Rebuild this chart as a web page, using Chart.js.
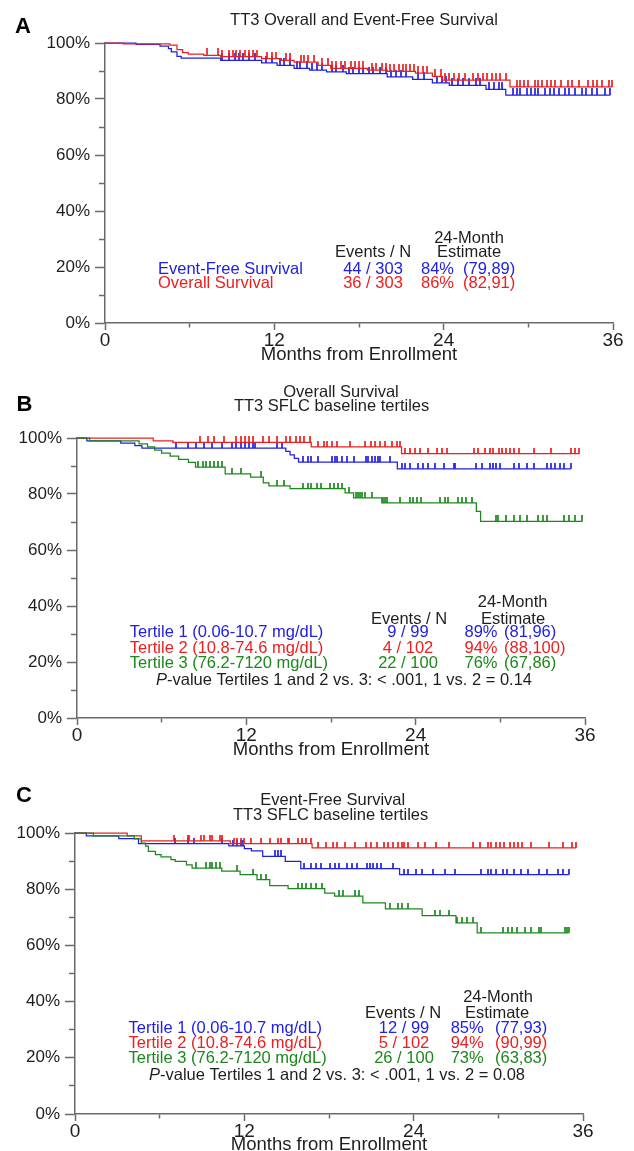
<!DOCTYPE html>
<html>
<head>
<meta charset="utf-8">
<script src="https://cdn.jsdelivr.net/npm/chart.js@4.4.1/dist/chart.umd.min.js"></script>
<style>
  html, body { margin: 0; padding: 0; background: #fff; overflow: hidden; }
  body { width: 634px; height: 1151px; position: relative; }
  canvas { position: absolute; left: 0; }
</style>
</head>
<body>
<canvas id="panelA" width="634" height="378" style="top:0px"></canvas>
<canvas id="panelB" width="634" height="392" style="top:378px"></canvas>
<canvas id="panelC" width="634" height="390" style="top:770px"></canvas>
<script>
// ---- axis ticks ----
const monthTicks = [0, 6, 12, 18, 24, 30, 36];
const monthLabels = ['0', '', '12', '', '24', '', '36'];
const pctTicks = [0, 10, 20, 30, 40, 50, 60, 70, 80, 90, 100];
const pctLabels = ['0%', '', '20%', '', '40%', '', '60%', '', '80%', '', '100%'];

// ---- panel A: TT3 overall (OS) and event-free (EFS) survival, % by month ----
const aOsTimes = [1.3, 4.6, 5.1, 5.5, 5.9, 7.0, 8.2, 11.1, 12.5, 13.4, 15.1, 16.0, 18.6, 20.0, 22.0, 23.2, 23.9, 28.7];
const aOsSurv = [99.7, 99.2, 97.6, 96.6, 96.0, 95.6, 95.1, 94.4, 93.8, 93.2, 92.0, 90.9, 90.3, 89.9, 89.2, 88.1, 86.7, 84.3];
const aOsCensor = [7.2, 8.0, 8.3, 8.8, 9.1, 9.3, 9.6, 9.9, 10.2, 10.5, 10.8, 11.5, 11.8, 12.1, 12.8, 13.1, 13.9, 14.1, 14.4, 14.8, 15.4, 15.8, 16.1, 16.4, 16.7, 17.0, 17.4, 17.7, 18.0, 18.3, 18.9, 19.2, 19.6, 19.9, 20.2, 20.5, 20.8, 21.1, 21.3, 21.6, 21.9, 22.2, 22.5, 22.8, 23.4, 23.8, 24.1, 24.4, 24.7, 25.1, 25.5, 26.1, 26.4, 26.8, 27.1, 27.4, 27.7, 28.0, 28.4, 29.2, 29.4, 29.7, 30.0, 30.5, 30.7, 31.0, 31.3, 31.6, 31.9, 32.3, 32.8, 33.1, 33.6, 34.2, 34.6, 34.9, 35.2, 35.7, 35.95];
const aEfsTimes = [2.2, 3.9, 4.5, 4.7, 5.1, 5.4, 8.2, 11.1, 12.2, 13.4, 14.5, 15.7, 17.1, 20.0, 21.8, 23.2, 24.4, 27.0, 28.4];
const aEfsSurv = [99.5, 98.9, 98.0, 96.8, 95.2, 94.6, 93.8, 92.9, 92.0, 90.9, 90.3, 89.7, 89.1, 87.9, 87.0, 85.8, 84.9, 83.4, 81.4];
const aEfsCensor = [8.3, 8.8, 9.2, 9.5, 9.8, 10.2, 10.6, 11.4, 11.8, 12.4, 12.7, 13.1, 13.6, 13.8, 14.3, 14.7, 15.0, 15.4, 16.1, 16.4, 16.9, 17.3, 17.6, 18.0, 18.3, 18.7, 19.0, 19.5, 19.9, 20.3, 20.6, 21.0, 21.3, 22.2, 22.6, 23.5, 23.9, 24.2, 24.6, 25.0, 25.4, 25.8, 26.3, 26.6, 27.2, 27.6, 27.9, 28.1, 28.9, 29.2, 29.4, 29.9, 30.2, 30.5, 30.7, 31.2, 31.5, 31.8, 32.2, 32.6, 32.9, 33.3, 33.8, 34.1, 34.5, 34.9, 35.4, 35.8];
const aRowNames = ['Event-Free Survival', 'Overall Survival'];
const aEventsN = ['44 / 303', '36 / 303'];
const aEst24 = ['84%', '86%'];
const aCI24 = ['(79,89)', '(82,91)'];

// ---- panel B: overall survival by SFLC tertile ----
const bT1Times = [0.7, 3.1, 4.1, 4.6, 14.8, 15.1, 15.4, 15.7, 22.7];
const bT1Surv = [99.0, 98.2, 97.3, 96.4, 95.2, 94.0, 92.7, 91.4, 89.0];
const bT1Censor = [7.0, 7.9, 8.4, 9.0, 9.6, 10.3, 11.0, 11.3, 11.6, 11.9, 12.2, 12.5, 12.6, 14.2, 14.5, 16.0, 16.4, 16.6, 17.1, 18.05, 18.3, 18.4, 18.75, 19.1, 19.6, 20.5, 20.65, 20.9, 21.1, 21.35, 21.5, 22.2, 23.0, 23.25, 23.6, 24.2, 24.5, 24.9, 25.4, 26.0, 26.7, 26.8, 28.3, 28.7, 29.3, 29.5, 29.7, 30.0, 31.0, 31.3, 31.9, 32.4, 33.3, 33.6, 33.9, 34.2, 34.5, 35.0];
const bT2Times = [5.4, 6.8, 16.6, 23.0];
const bT2Surv = [99.0, 98.4, 96.8, 94.4];
const bT2Censor = [8.7, 9.3, 9.7, 10.4, 11.3, 11.6, 11.9, 12.2, 12.5, 13.2, 13.6, 14.2, 14.8, 15.1, 15.5, 15.8, 16.1, 16.5, 17.1, 17.5, 17.7, 18.05, 18.4, 19.35, 20.4, 20.8, 21.1, 21.5, 21.8, 22.3, 22.7, 22.9, 23.25, 23.6, 23.95, 24.3, 24.9, 25.5, 25.85, 26.2, 28.1, 28.45, 28.9, 29.3, 29.5, 29.9, 30.1, 30.4, 30.7, 31.0, 31.3, 32.4, 33.6, 35.0, 35.3, 35.6];
const bT3Times = [0.9, 4.4, 5.0, 5.5, 6.0, 6.6, 7.2, 7.9, 8.4, 10.5, 12.3, 13.2, 13.6, 15.1, 19.0, 19.6, 21.6, 28.3, 28.6];
const bT3Surv = [99.0, 97.9, 96.8, 95.7, 94.6, 93.5, 92.4, 91.3, 89.6, 87.2, 86.0, 84.0, 82.9, 81.9, 80.4, 78.6, 76.8, 73.8, 70.2];
const bT3Censor = [8.6, 8.9, 9.15, 9.4, 9.7, 10.0, 10.3, 11.0, 11.6, 13.05, 14.2, 14.65, 16.0, 16.4, 16.6, 17.0, 17.3, 17.9, 18.2, 18.5, 18.75, 19.3, 19.8, 19.9, 20.05, 20.2, 20.4, 20.9, 21.7, 21.8, 21.95, 22.9, 23.6, 23.8, 24.1, 24.4, 25.7, 26.1, 26.3, 27.0, 27.3, 27.6, 28.0, 29.7, 29.8, 30.4, 31.0, 31.4, 31.9, 32.7, 33.0, 33.3, 34.5, 34.9, 35.3, 35.8];
const bEventsN = ['9 / 99', '4 / 102', '22 / 100'];
const bEst24 = ['89%', '94%', '76%'];
const bCI24 = ['(81,96)', '(88,100)', '(67,86)'];

// ---- panel C: event-free survival by SFLC tertile ----
const cT1Times = [0.8, 3.1, 4.5, 10.9, 12.0, 12.5, 13.3, 14.9, 16.0, 23.0];
const cT1Surv = [99.0, 98.0, 96.2, 95.4, 94.4, 93.6, 91.7, 89.9, 87.3, 85.2];
const cT1Censor = [7.1, 8.0, 8.4, 10.45, 11.2, 11.5, 11.75, 11.9, 14.2, 14.4, 14.6, 16.2, 16.7, 17.1, 17.4, 18.1, 18.4, 18.7, 19.3, 19.6, 20.0, 20.7, 20.9, 21.15, 21.4, 21.7, 22.5, 23.3, 23.6, 24.2, 24.6, 25.35, 26.2, 26.9, 28.8, 29.25, 29.5, 29.8, 30.3, 30.6, 31.1, 31.6, 32.1, 32.9, 33.45, 34.2, 34.6, 35.0];
const cT2Times = [3.7, 4.7, 11.0, 16.8];
const cT2Surv = [99.0, 97.2, 96.2, 94.7];
const cT2Censor = [7.0, 8.0, 8.1, 8.9, 9.15, 9.6, 9.7, 10.3, 10.45, 11.3, 11.5, 11.75, 12.0, 12.5, 13.2, 13.8, 14.4, 14.6, 15.1, 15.2, 15.8, 16.1, 16.4, 16.7, 17.25, 17.8, 18.3, 18.55, 19.1, 19.85, 20.6, 21.0, 21.4, 21.9, 22.2, 22.5, 22.9, 23.2, 23.3, 23.6, 24.3, 24.8, 25.6, 26.5, 28.2, 28.7, 29.25, 29.5, 29.8, 30.1, 30.4, 30.8, 31.1, 31.4, 31.7, 32.3, 33.6, 34.6, 35.2, 35.5];
const cT3Times = [1.3, 4.2, 4.7, 5.0, 5.2, 5.7, 6.1, 6.8, 7.1, 7.9, 8.3, 10.4, 11.7, 12.9, 13.8, 15.1, 17.7, 18.4, 20.4, 22.0, 24.6, 27.0, 28.5];
const cT3Surv = [99.0, 97.9, 96.4, 95.3, 93.5, 92.3, 91.5, 90.5, 89.9, 88.7, 87.5, 86.4, 85.2, 83.4, 81.3, 80.2, 78.6, 77.5, 75.1, 73.0, 70.6, 68.0, 64.5];
const cT3Censor = [8.6, 9.3, 9.6, 9.7, 10.0, 10.3, 11.5, 12.6, 13.2, 13.5, 15.8, 16.1, 16.4, 16.7, 17.1, 17.5, 18.7, 19.0, 19.85, 20.1, 22.3, 22.9, 23.2, 23.6, 25.5, 25.9, 26.5, 27.1, 27.4, 27.8, 28.2, 28.8, 30.3, 30.7, 31.0, 31.3, 31.9, 32.3, 32.9, 33.0, 34.75, 34.9, 35.0];
const cEventsN = ['12 / 99', '5 / 102', '26 / 100'];
const cEst24 = ['85%', '94%', '73%'];
const cCI24 = ['(77,93)', '(90,99)', '(63,83)'];

const tertileNames = ['Tertile 1 (0.06-10.7 mg/dL)', 'Tertile 2 (10.8-74.6 mg/dL)', 'Tertile 3 (76.2-7120 mg/dL)'];
const headerLabels = ['24-Month', 'Events / N', 'Estimate'];

const FONT = "'Liberation Sans', Arial, Helvetica, sans-serif";
const BLUE = 'rgb(32, 32, 226)';
const RED = 'rgb(234, 32, 32)';
const GREEN = 'rgb(28, 136, 28)';
const INK = '#1e1e1e';
const AXIS = '#6a6a6a';

// value of the step function at time t
function survAt(times, surv, t) {
    let s = 100;
    for (let i = 0; i < times.length; i++) {
        if (times[i] <= t) s = surv[i];
    }
    return s;
}

// small upward censor tick used as a point style
function tickMark(color, h) {
    const c = document.createElement('canvas');
    c.width = 2;
    c.height = h * 2;
    const g = c.getContext('2d');
    g.globalAlpha = 0.85;
    g.fillStyle = color;
    g.fillRect(0, 0, 2, h);
    return c;
}

function curveSets(color, times, surv, censor, tickH) {
    const end = Math.max(...censor);
    const steps = [{ x: 0, y: 100 }].concat(times.map((t, i) => ({ x: t, y: surv[i] })));
    steps.push({ x: end, y: surv[surv.length - 1] });
    return [
        {
            data: steps,
            borderColor: color,
            borderWidth: 1.25,
            stepped: 'before',
            pointRadius: 0,
            fill: false,
            clip: false
        },
        {
            data: censor.map(t => ({ x: t, y: survAt(times, surv, t) })),
            showLine: false,
            pointStyle: tickMark(color, tickH),
            pointRadius: 3,
            clip: false
        }
    ];
}

function textPlugin(t) {
    return {
        id: 'panelText',
        afterDraw(chart) {
            const ctx = chart.ctx;
            ctx.save();
            ctx.fillStyle = '#000';
            ctx.textAlign = 'left';
            ctx.textBaseline = 'alphabetic';
            ctx.font = `bold 22px ${FONT}`;
            ctx.fillText(t.letter, t.letterPos[0], t.letterPos[1]);

            ctx.textBaseline = 'middle';
            ctx.font = `16.5px ${FONT}`;
            ctx.fillStyle = INK;
            ctx.textAlign = 'center';
            t.titles.forEach(([s, x, y]) => ctx.fillText(s, x, y));
            headerLabels.forEach((s, i) => ctx.fillText(s, t.headers[i][0], t.headers[i][1]));

            t.rowY.forEach((y, i) => {
                ctx.fillStyle = t.colors[i];
                ctx.textAlign = 'left';
                ctx.fillText(t.names[i], t.cols.name, y);
                ctx.textAlign = 'center';
                ctx.fillText(t.events[i], t.cols.events, y);
                ctx.textAlign = 'right';
                ctx.fillText(t.est[i], t.cols.est, y);
                ctx.textAlign = 'left';
                ctx.fillText(t.ci[i], t.cols.ci, y);
            });

            if (t.pValue) {
                const [txt, cx, cy] = t.pValue;
                ctx.fillStyle = INK;
                ctx.textAlign = 'left';
                ctx.font = `italic 16.5px ${FONT}`;
                const wP = ctx.measureText('P').width;
                ctx.font = `16.5px ${FONT}`;
                const wRest = ctx.measureText(txt).width;
                const x0 = cx - (wP + wRest) / 2;
                ctx.font = `italic 16.5px ${FONT}`;
                ctx.fillText('P', x0, cy);
                ctx.font = `16.5px ${FONT}`;
                ctx.fillText(txt, x0 + wP, cy);
            }
            ctx.restore();
        }
    };
}

function makePanel(id, geo, datasets, text) {
    return new Chart(document.getElementById(id), {
        type: 'line',
        data: { datasets: datasets },
        options: {
            responsive: false,
            animation: false,
            events: [],
            devicePixelRatio: 1,
            layout: { autoPadding: false, padding: geo.pad },
            plugins: { legend: { display: false }, tooltip: { enabled: false } },
            scales: {
                x: {
                    type: 'linear',
                    min: 0,
                    max: 36,
                    afterBuildTicks: s => { s.ticks = monthTicks.map(v => ({ value: v })); },
                    afterFit: s => { s.height = geo.xh; },
                    border: { display: true, color: AXIS, width: 1.5 },
                    grid: {
                        drawOnChartArea: false,
                        drawTicks: true,
                        tickLength: 7,
                        tickColor: AXIS,
                        tickWidth: 1.5,
                        tickBorderDash: c => (monthLabels[c.index] ? [] : [4, 20]),
                        tickBorderDashOffset: 0
                    },
                    ticks: {
                        autoSkip: false,
                        maxRotation: 0,
                        minRotation: 0,
                        padding: 1,
                        color: INK,
                        font: { family: FONT, size: 19, lineHeight: 1 },
                        callback: (v, i) => monthLabels[i]
                    },
                    title: {
                        display: true,
                        text: 'Months from Enrollment',
                        color: INK,
                        font: { family: FONT, size: 18.5, lineHeight: 1 },
                        padding: { top: 0, bottom: geo.titlePad }
                    }
                },
                y: {
                    type: 'linear',
                    min: 0,
                    max: 100,
                    afterBuildTicks: s => { s.ticks = pctTicks.map(v => ({ value: v })); },
                    afterFit: s => { s.width = geo.yw; },
                    border: { display: true, color: AXIS, width: 1.5 },
                    grid: {
                        drawOnChartArea: false,
                        drawTicks: true,
                        tickLength: 10,
                        tickColor: AXIS,
                        tickWidth: 1.5,
                        tickBorderDash: c => (pctLabels[c.index] ? [] : [6, 4]),
                        tickBorderDashOffset: c => (pctLabels[c.index] ? 0 : 6)
                    },
                    ticks: {
                        autoSkip: false,
                        padding: 5,
                        color: INK,
                        font: { family: FONT, size: 17, lineHeight: 1 },
                        callback: (v, i) => pctLabels[i]
                    }
                }
            }
        },
        plugins: [textPlugin(text)]
    });
}

// Panel A
makePanel('panelA',
    { pad: { left: 0, right: 21, top: 43, bottom: 0 }, yw: 105, xh: 55, titlePad: 14 },
    [].concat(
        curveSets(RED, aOsTimes, aOsSurv, aOsCensor, 7),
        curveSets(BLUE, aEfsTimes, aEfsSurv, aEfsCensor, 7)
    ),
    {
        letter: 'A', letterPos: [15, 33],
        titles: [['TT3 Overall and Event-Free Survival', 364, 20.5]],
        headers: [[469, 238], [373, 252.7], [469, 252.7]],
        rowY: [269, 283.3],
        colors: [BLUE, RED],
        names: aRowNames, events: aEventsN, est: aEst24, ci: aCI24,
        cols: { name: 158, events: 373, est: 454, ci: 463 }
    });

// Panel B
makePanel('panelB',
    { pad: { left: 0, right: 49, top: 60, bottom: 0 }, yw: 77, xh: 52, titlePad: 11 },
    [].concat(
        curveSets(GREEN, bT3Times, bT3Surv, bT3Censor, 6),
        curveSets(RED, bT2Times, bT2Surv, bT2Censor, 6),
        curveSets(BLUE, bT1Times, bT1Surv, bT1Censor, 6)
    ),
    {
        letter: 'B', letterPos: [16.5, 32.7],
        titles: [['Overall Survival', 341, 14.8], ['TT3 SFLC baseline tertiles', 331.6, 28.2]],
        headers: [[512.6, 224.7], [409, 241], [513, 241]],
        rowY: [254.3, 270.3, 285.3],
        colors: [BLUE, RED, GREEN],
        names: tertileNames, events: bEventsN, est: bEst24, ci: bCI24,
        cols: { name: 129.8, events: 408, est: 497.5, ci: 504 },
        pValue: ['-value Tertiles 1 and 2 vs. 3: < .001, 1 vs. 2 = 0.14', 344, 302]
    });

// Panel C
makePanel('panelC',
    { pad: { left: 0, right: 51, top: 63, bottom: 0 }, yw: 75, xh: 46, titlePad: 6 },
    [].concat(
        curveSets(GREEN, cT3Times, cT3Surv, cT3Censor, 6),
        curveSets(RED, cT2Times, cT2Surv, cT2Censor, 6),
        curveSets(BLUE, cT1Times, cT1Surv, cT1Censor, 6)
    ),
    {
        letter: 'C', letterPos: [16, 31.5],
        titles: [['Event-Free Survival', 332.7, 30], ['TT3 SFLC baseline tertiles', 330.6, 45]],
        headers: [[498, 227.3], [403, 243.3], [497, 243.3]],
        rowY: [258.3, 273.3, 288.3],
        colors: [BLUE, RED, GREEN],
        names: tertileNames, events: cEventsN, est: cEst24, ci: cCI24,
        cols: { name: 128.6, events: 404, est: 483.7, ci: 495 },
        pValue: ['-value Tertiles 1 and 2 vs. 3: < .001, 1 vs. 2 = 0.08', 337, 305]
    });
</script>
</body>
</html>
